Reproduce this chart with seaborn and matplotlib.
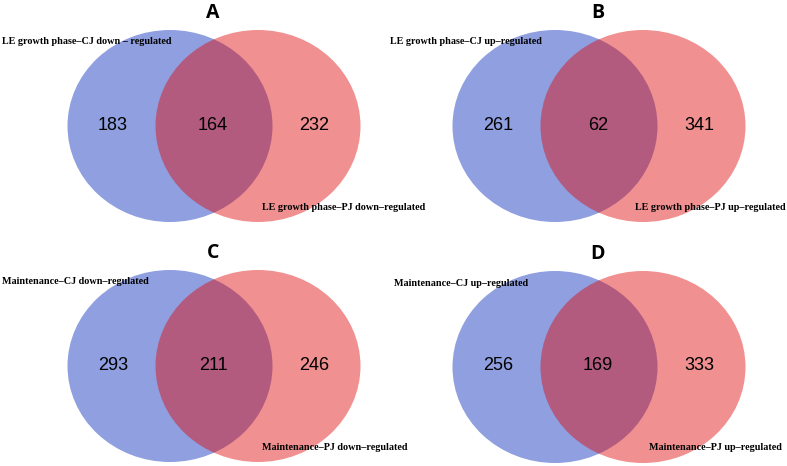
import matplotlib
matplotlib.use("Agg")
import matplotlib.pyplot as plt
from matplotlib.patches import Ellipse
import seaborn as sns

sns.set_theme(style="white")

# Venn counts: only CJ, both, only PJ
panels = ["A", "B", "C", "D"]
only_cj = [183, 261, 293, 256]
shared = [164, 62, 211, 169]
only_pj = [232, 341, 246, 333]
cj_labels = ["LE growth phase\u2013CJ down \u2013 regulated",
             "LE growth phase\u2013CJ up\u2013regulated",
             "Maintenance\u2013CJ down\u2013regulated",
             "Maintenance\u2013CJ up\u2013regulated"]
pj_labels = ["LE growth phase\u2013PJ down\u2013regulated",
             "LE growth phase\u2013PJ up\u2013regulated",
             "Maintenance\u2013PJ down\u2013regulated",
             "Maintenance\u2013PJ up\u2013regulated"]

blue = (0.03, 0.17, 0.73)
red = (0.87, 0.04, 0.04)
alpha = 0.45

fig = plt.figure(figsize=(7.87, 4.66), dpi=100)
ax = fig.add_axes([0, 0, 1, 1])
ax.set_xlim(0, 787)
ax.set_ylim(466, 0)
ax.axis("off")

# panel offsets (x, y) in pixels and label x positions
offsets = [(0, 0), (385, 0), (0, 240), (385, 241)]
left_lx = [2, 390, 2, 394]
right_lx = [262, 635, 262, 649]
w, h = 205, 192

for i, (ox, oy) in enumerate(offsets):
    cy = oy + 126
    cx_b = ox + 170
    cx_r = ox + 258
    ax.add_patch(Ellipse((cx_b, cy), w, h, color=blue, alpha=alpha, lw=0))
    ax.add_patch(Ellipse((cx_r, cy), w, h, color=red, alpha=alpha, lw=0))
    ax.text(ox + 213, oy + 13, panels[i], ha="center", va="center", color="black",
            fontsize=14, fontweight="bold", family="Open Sans")
    ny = cy - 1
    for x, v in zip([ox + 113, ox + 213, ox + 314], [only_cj[i], shared[i], only_pj[i]]):
        ax.text(x, ny, str(v), ha="center", va="center", fontsize=13,
                color="black", family="Liberation Sans")
    ax.text(left_lx[i], oy + 42, cj_labels[i], ha="left", va="center", fontsize=7.3,
            color="black", fontweight="bold", family="Liberation Serif")
    ax.text(right_lx[i], oy + 207, pj_labels[i], ha="left", va="center", fontsize=7.3,
            color="black", fontweight="bold", family="Liberation Serif")

fig.savefig("out.png", dpi=100)
